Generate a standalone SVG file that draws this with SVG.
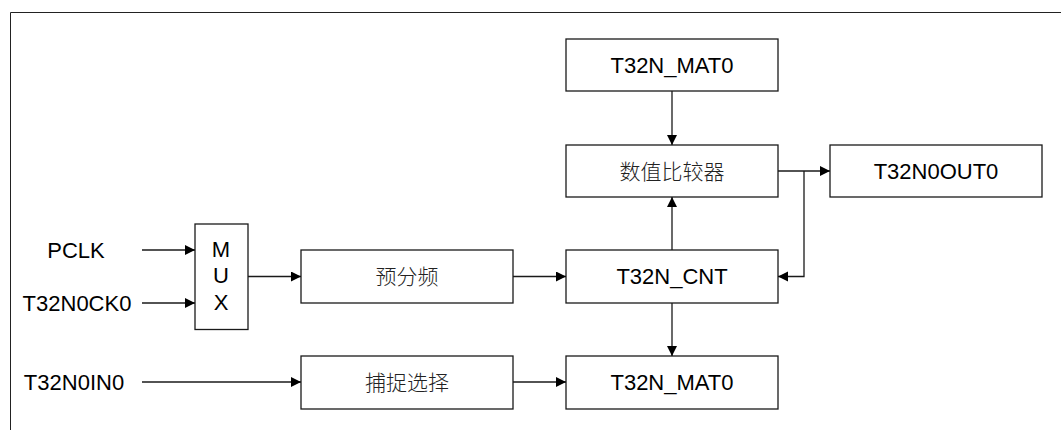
<svg xmlns="http://www.w3.org/2000/svg" width="1061" height="430" viewBox="0 0 1061 430">
<style>
.box{fill:#fff;stroke:#1a1a1a;stroke-width:1.3}
.t{font-family:"Liberation Sans",Arial,sans-serif;font-size:22px;fill:#000;text-anchor:middle}
.c{font-family:"Noto Sans CJK SC",sans-serif;font-size:21px;font-weight:300;fill:#222;text-anchor:middle}
.ln{fill:none;stroke:#1a1a1a;stroke-width:1.3}
</style>
<defs>
<marker id="ah" markerUnits="userSpaceOnUse" markerWidth="11" markerHeight="11" refX="10" refY="5" orient="auto">
<path d="M0,0 L10,5 L0,10 Z" fill="#000"/>
</marker>
</defs>
<rect width="1061" height="430" fill="#fff"/>
<path d="M10.5,430 V12.5 H1061" fill="none" stroke="#222" stroke-width="1"/>
<g id="labels">
<text class="t" x="76" y="258">PCLK</text>
<text class="t" x="77" y="311">T32N0CK0</text>
<text class="t" x="74" y="390">T32N0IN0</text>
</g>
<g id="mux">
<rect class="box" x="195" y="224" width="53" height="105.5"/>
<text class="t" x="221" y="257">M</text>
<text class="t" x="221" y="283">U</text>
<text class="t" x="221" y="310">X</text>
</g>
<g id="prescaler">
<rect class="box" x="301" y="250" width="212" height="53"/>
<text class="c" x="407" y="284">预分频</text>
</g>
<g id="capture">
<rect class="box" x="301" y="356" width="212" height="53"/>
<text class="c" x="407" y="390">捕捉选择</text>
</g>
<g id="mat0top">
<rect class="box" x="566" y="39" width="212" height="52"/>
<text class="t" x="672" y="73">T32N_MAT0</text>
</g>
<g id="comparator">
<rect class="box" x="566" y="145" width="212" height="52"/>
<text class="c" x="672" y="179">数值比较器</text>
</g>
<g id="cnt">
<rect class="box" x="566" y="250" width="212" height="53"/>
<text class="t" x="672" y="284">T32N_CNT</text>
</g>
<g id="mat0bot">
<rect class="box" x="566" y="356" width="212" height="53"/>
<text class="t" x="672" y="390">T32N_MAT0</text>
</g>
<g id="out">
<rect class="box" x="830" y="145" width="212" height="52"/>
<text class="t" x="936" y="179">T32N0OUT0</text>
</g>
<g id="connectors">
<path class="ln" d="M142,250 H195" marker-end="url(#ah)"/>
<path class="ln" d="M142,303 H195" marker-end="url(#ah)"/>
<path class="ln" d="M248,276.5 H301" marker-end="url(#ah)"/>
<path class="ln" d="M513,276.5 H566" marker-end="url(#ah)"/>
<path class="ln" d="M142,382 H301" marker-end="url(#ah)"/>
<path class="ln" d="M513,382 H566" marker-end="url(#ah)"/>
<path class="ln" d="M672,91 V145" marker-end="url(#ah)"/>
<path class="ln" d="M672,250 V197" marker-end="url(#ah)"/>
<path class="ln" d="M672,303 V356" marker-end="url(#ah)"/>
<path class="ln" d="M778,171 H830" marker-end="url(#ah)"/>
<path class="ln" d="M804,171 V276.5 H778" marker-end="url(#ah)"/>
</g>
</svg>
